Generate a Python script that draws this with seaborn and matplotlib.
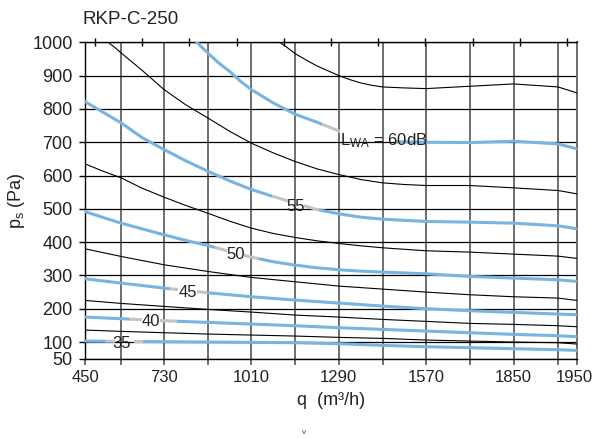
import numpy as np
import matplotlib
matplotlib.use("Agg")
import matplotlib.pyplot as plt
from matplotlib.patches import Rectangle
from matplotlib.transforms import ScaledTranslation
import seaborn as sns

sns.set_theme(style="white")
plt.rcParams['font.family'] = ['Liberation Sans', 'DejaVu Sans']
plt.rcParams['mathtext.default'] = 'regular'

# eje x: etiquetas del fabricante (escala no uniforme en el original)
x_ticks = [450, 730, 1010, 1290, 1570, 1850, 1950]
x_minor = [578, 870, 1150, 1430, 1710, 1920]
y_ticks = [50, 100, 200, 300, 400, 500, 600, 700, 800, 900, 1000]

# curvas de presión (negras) y de ruido LWA (azules)
q_full = [450, 514, 578, 652, 730, 800, 870, 940, 1010, 1080, 1150, 1220,
          1290, 1360, 1430, 1570, 1710, 1850, 1920, 1950]
q_grid = [450, 578, 730, 870, 1010, 1150, 1290, 1430, 1570, 1710, 1850, 1920, 1950]

q_b1 = [532, 555, 578, 615, 652, 730, 800, 870, 940, 1010, 1080, 1150, 1220, 1290,
        1360, 1430, 1500, 1570, 1710, 1850, 1920, 1950]
ps_b1 = [1000, 985, 968, 942, 916, 858, 812, 773, 733, 697, 668, 642, 620, 603,
         588, 578, 573, 570, 570, 563, 555, 545]

q_b2 = [1100, 1125, 1150, 1185, 1220, 1290, 1325, 1360, 1395, 1430, 1500,
        1570, 1710, 1850, 1920, 1950]
ps_b2 = [1000, 984, 966, 947, 929, 900, 888, 878, 871, 866, 863,
         861, 868, 875, 866, 848]

ps_b3 = [635, 613, 593, 562, 535, 510, 487, 463, 442, 426, 414, 404,
         396, 389, 383, 374, 370, 364, 358, 351]
ps_b4 = [380, 357, 332, 312, 294, 281, 268, 259, 250, 242, 236, 232, 225]
ps_b5 = [225, 216, 207, 198, 190, 181, 175, 168, 162, 156, 153, 149, 146]
ps_b6 = [136, 132, 128, 124, 121, 118, 114, 111, 106, 103, 100, 98, 94]

q_60 = [835, 870, 905, 940, 975, 1010, 1080, 1150, 1220, 1290, 1360, 1430, 1570,
        1710, 1850, 1920, 1950]
ps_60 = [1000, 968, 938, 913, 883, 858, 818, 784, 760, 734, 712, 702, 700,
         699, 703, 695, 680]
ps_55 = [822, 790, 758, 714, 678, 644, 613, 584, 558, 537, 517, 498,
         485, 475, 469, 462, 460, 457, 449, 440]
ps_50 = [492, 474, 457, 440, 422, 405, 390, 372, 355, 341, 331, 323,
         317, 313, 310, 305, 297, 292, 287, 282]
ps_45 = [290, 277, 262, 248, 236, 226, 217, 208, 200, 194, 189, 184, 182]
ps_40 = [175, 170, 164, 159, 154, 149, 143, 138, 133, 128, 123, 119, 116]
ps_35 = [103, 102, 101, 100, 99, 98, 95, 90, 86, 83, 80, 77, 75]

# etiquetas sobre las curvas azules: texto, posición, tramo gris y hueco del texto
lab_text = ['35', '40', '45', '50', '55', 'L$_{WA}$ = 60dB']
lab_q = [581, 684, 805, 958, 1153, 1293]
lab_ps = [97, 161, 250, 362, 507, 691]
gray_lo = [521, 609, 749, 892, 1077, 1236]
gray_hi = [655, 771, 867, 1035, 1227, 1293]
gap_lo = [555, 652, 775, 931, 1129, 1293]
gap_hi = [625, 716, 835, 985, 1180, 1470]

# posiciones en pixeles de las etiquetas del eje x
x_pos = [0, 79, 166.3, 253.7, 341, 428.3, 491.7]


def fwd(q):
    q = np.asarray(q, dtype=float)
    p = np.interp(q, x_ticks, x_pos)
    p = np.where(q < x_ticks[0], (q - x_ticks[0]) * 79 / 280, p)
    p = np.where(q > x_ticks[-1], x_pos[-1] + (q - x_ticks[-1]) * 63.4 / 100, p)
    return p


def inv(p):
    p = np.asarray(p, dtype=float)
    q = np.interp(p, x_pos, x_ticks)
    q = np.where(p < 0, x_ticks[0] + p * 280 / 79, q)
    q = np.where(p > x_pos[-1], x_ticks[-1] + (p - x_pos[-1]) * 100 / 63.4, q)
    return q


fig = plt.figure(figsize=(5.95, 4.38), dpi=100)
ax = fig.add_axes([85 / 595, 1 - 358.7 / 438, 492 / 595, 316.4 / 438])
ax.set_xscale('function', functions=(fwd, inv))

BLUE = '#78b4e0'
GRAY = '#c4c4c4'


def tramo(q, ps, color, lw, lo=450, hi=1950):
    sns.lineplot(x=q, y=ps, ax=ax, color=color, linewidth=lw,
                 estimator=None, sort=False, zorder=3)
    linea = ax.lines[-1]
    linea.set_clip_path(Rectangle((lo, 50), hi - lo, 950, transform=ax.transData))


# curvas negras
tramo(q_b1, ps_b1, 'black', 0.8)
tramo(q_b2, ps_b2, 'black', 0.8)
tramo(q_full, ps_b3, 'black', 0.8)
tramo(q_grid, ps_b4, 'black', 0.8)
tramo(q_grid, ps_b5, 'black', 0.8)
tramo(q_grid, ps_b6, 'black', 0.8)

# curvas azules con tramo gris alrededor de la etiqueta
azules = [(q_grid, ps_35), (q_grid, ps_40), (q_grid, ps_45),
          (q_full, ps_50), (q_full, ps_55), (q_60, ps_60)]
for i, (q, ps) in enumerate(azules):
    tramo(q, ps, BLUE, 2.2, 450, gray_lo[i])
    tramo(q, ps, BLUE, 2.2, max(gap_hi[i], gray_hi[i]), 1950)
    if gap_lo[i] > gray_lo[i]:
        tramo(q, ps, GRAY, 2.2, gray_lo[i], gap_lo[i])
    if gray_hi[i] > gap_hi[i]:
        tramo(q, ps, GRAY, 2.2, gap_hi[i], gray_hi[i])
    if i < 5:
        ax.text(lab_q[i], lab_ps[i], lab_text[i], fontsize=12, ha='center',
                va='center', color='#222222', zorder=4)
    else:
        ax.text(lab_q[i], lab_ps[i], lab_text[i], fontsize=12, ha='left',
                va='baseline', color='#222222', zorder=4)

ax.set_xlim(450, 1950)
ax.set_ylim(50, 1000)
ax.set_xticks(x_ticks)
ax.set_xticks(x_minor, minor=True)
ax.set_xticklabels([str(v) for v in x_ticks])
ax.set_yticks(y_ticks)
ax.set_yticklabels([str(v) for v in y_ticks])

ax.grid(axis='x', which='both', color='#6e6e6e', linewidth=1.4, zorder=1)
ax.grid(axis='y', which='major', color='black', linewidth=0.9, zorder=1)
ax.set_axisbelow(True)

for lado in ['top', 'bottom', 'left']:
    ax.spines[lado].set_color('black')
    ax.spines[lado].set_linewidth(1.0)
ax.spines['right'].set_color('#6e6e6e')
ax.spines['right'].set_linewidth(1.4)

ax.tick_params(axis='x', which='both', direction='out', length=4, width=1.4,
               color='#6e6e6e', pad=4, labelsize=12, labelcolor='#222222')
ax.tick_params(axis='y', direction='out', length=4, width=1.0, color='black',
               pad=5, labelsize=13, labelcolor='#222222')
ax.tick_params(left=True, bottom=True)
ax.tick_params(axis='x', which='minor', bottom=True)

# la última etiqueta (1950) queda pegada al borde: se corre un poco a la izquierda
ultima = ax.get_xticklabels()[-1]
ultima.set_transform(ultima.get_transform() + ScaledTranslation(-2.5 / 100, 0, fig.dpi_scale_trans))

# marcas cortas del borde superior
ax_top = ax.twiny()
ax_top.set_xlim(0, 1)
ax_top.set_xticks(np.linspace(10 / 492, 482 / 492, 11))
ax_top.set_xticklabels([])
ax_top.tick_params(axis='x', direction='inout', length=6, width=1, color='black', top=True)
ax_top.grid(False)
for s in ax_top.spines.values():
    s.set_visible(False)

ax.set_xlabel('q  (m³/h)', fontsize=13, color='#222222', labelpad=5)
ax.set_ylabel('p$_{s}$ (Pa)', fontsize=13, color='#222222', labelpad=4)
fig.text(83 / 595, 1 - 20 / 438, 'RKP-C-250', fontsize=13.5, color='#222222',
         ha='left', va='center')
fig.text(304 / 595, 1 - 432.7 / 438, 'v', fontsize=6, color='#444444',
         ha='center', va='center')

fig.savefig('out.png', dpi=100)
